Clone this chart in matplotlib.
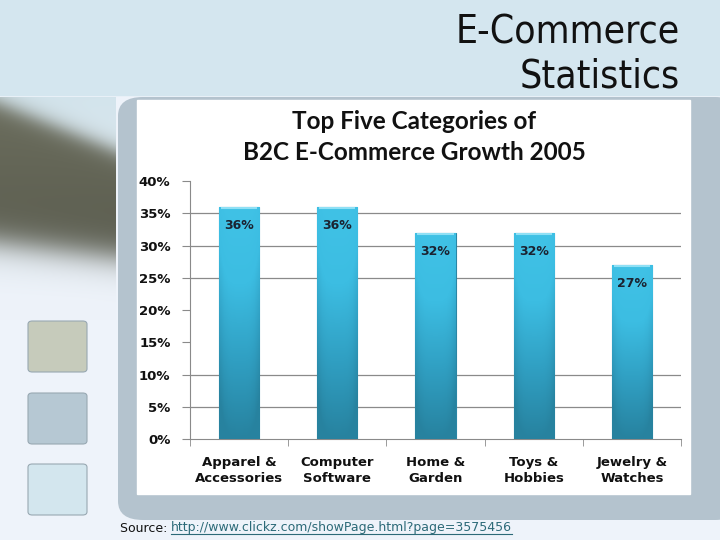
import numpy as np
import matplotlib
matplotlib.use("Agg")
import matplotlib.pyplot as plt
from matplotlib.patches import Rectangle, FancyBboxPatch
from matplotlib.colors import LinearSegmentedColormap, to_rgb

# data
categories = ["Apparel &\nAccessories", "Computer\nSoftware", "Home &\nGarden",
              "Toys &\nHobbies", "Jewelry &\nWatches"]
growth = [36, 36, 32, 32, 27]
yticks = [0, 5, 10, 15, 20, 25, 30, 35, 40]
grid_levels = [5, 10, 25, 30, 35]
slide_title = "E-Commerce\nStatistics"
chart_title = "Top Five Categories of\nB2C E-Commerce Growth 2005"
source_label = "Source: "
source_url = "http://www.clickz.com/showPage.html?page=3575456"

W, H = 720, 540
fig = plt.figure(figsize=(7.2, 5.4), dpi=100)
fig.patch.set_facecolor("#eef3fa")


def box(x0, y0, x1, y1):
    # pixel box (top-left origin) -> figure fraction rect args
    return (x0 / W, 1 - y1 / H), (x1 - x0) / W, (y1 - y0) / H


# slide background
xy, w, h = box(0, 0, W, 95)
fig.patches.append(Rectangle(xy, w, h, transform=fig.transFigure, color="#d4e6ef", zorder=-5))

# dark diagonal band in the top left strip
sx, sy = np.meshgrid(np.arange(116), np.arange(97, 320))
top_edge = 103 + 47 * sx / 115
bot_edge = 242 + 14 * sx / 115
up = 1 / (1 + np.exp(-(sy - top_edge) / 6))
down = 1 / (1 + np.exp((sy - bot_edge) / 9))
dark = up * down
mix = np.clip((sy - 97) / 200, 0, 1)[..., None]
base = np.array(to_rgb("#d3e4ec")) * (1 - mix) + np.array(to_rgb("#eef3fa")) * mix
shade = np.array(to_rgb("#6b6d5d")) * (1 - 0.15 * (sy - 100)[..., None] / 150)
strip = base * (1 - dark[..., None]) + shade * dark[..., None]
sax = fig.add_axes([0, 1 - 320 / H, 116 / W, 223 / H], zorder=-4)
sax.imshow(np.clip(strip, 0, 1), aspect="auto", origin="upper")
sax.axis("off")

# grey-blue panel behind chart
xy, w, h = box(118, 97, 740, 520)
fig.patches.append(FancyBboxPatch(xy, w, h, boxstyle="round,pad=0,rounding_size=0.035",
                                  transform=fig.transFigure, facecolor="#b4c3ce",
                                  edgecolor="none", zorder=-3))
xy, w, h = box(137, 100, 690, 494)
fig.patches.append(Rectangle(xy, w, h, transform=fig.transFigure, color="white", zorder=-2))

# decorative squares
for top, col in [(321, "#c6cbbb"), (393, "#b6c8d3"), (464, "#d3e6ee")]:
    xy, w, h = box(28, top, 87, top + 51)
    fig.patches.append(FancyBboxPatch(xy, w, h, boxstyle="round,pad=0,rounding_size=0.006",
                                      transform=fig.transFigure, facecolor=col,
                                      edgecolor="#98a8b2", linewidth=0.8, zorder=-2))

fig.text(680 / W, 1 - 54 / H, slide_title, ha="right", va="center", fontsize=28,
         family="DejaVu Sans", fontstretch="condensed", color="#111111", linespacing=1.2)
fig.text(414 / W, 1 - 137 / H, chart_title, ha="center", va="center", fontsize=17.5,
         fontweight="bold", family=["Lato", "DejaVu Sans"], color="#111111", linespacing=1.38)

# chart
ax = fig.add_axes([190 / W, 1 - 439 / H, 491 / W, 258 / H])
ax.set_facecolor("none")
x = np.arange(len(categories))
bars = ax.bar(x, growth, width=0.41, color="#39b4d8", edgecolor="#2a86a5", linewidth=0.8, zorder=3)

# vertical shading, slightly darker at the bar sides
cmap = LinearSegmentedColormap.from_list("bar", ["#27829f", "#309fc2", "#3cbde2", "#40c2e6"])
gy = np.linspace(0, 1, 128)[:, None]
gx = np.abs(np.linspace(-1, 1, 32))[None, :]
shading = np.clip(gy - 0.18 * gx ** 4, 0, 1)
for b in bars:
    bx, bw, bh = b.get_x(), b.get_width(), b.get_height()
    img = ax.imshow(shading, cmap=cmap, aspect="auto", origin="lower",
                    extent=[bx, bx + bw, 0, bh], zorder=3.5, vmin=0, vmax=1)
    img.set_clip_path(b)
    ax.plot([bx + bw * 0.05, bx + bw * 0.95], [bh - 0.25, bh - 0.25], color="#8fe0f5",
            lw=1.5, zorder=4, solid_capstyle="butt")
    ax.text(bx + bw / 2, bh - 2.9, f"{bh:.0f}%", ha="center", va="center", fontsize=9,
            fontweight="bold", color="#1b2230", zorder=5)

for g in grid_levels:
    ax.axhline(g, color="#8a8a8a", lw=0.9, zorder=1)

ax.set_xlim(-0.5, len(categories) - 0.5)
ax.set_ylim(0, 40)
ax.set_yticks(yticks)
ax.set_yticklabels([f"{t}%" for t in yticks], fontsize=9.5, fontweight="bold", color="#111111")
ax.set_xticks(x)
ax.set_xticklabels(categories, fontsize=9.5, fontweight="bold", color="#111111", linespacing=1.3)
ax.set_xticks(np.arange(len(categories) + 1) - 0.5, minor=True)
ax.tick_params(axis="x", which="major", length=0, pad=12)
ax.tick_params(axis="x", which="minor", length=5, color="#8a8a8a", direction="out")
ax.tick_params(axis="y", length=6, color="#8a8a8a", pad=8)
for s in ["top", "right"]:
    ax.spines[s].set_visible(False)
ax.spines["left"].set_color("#8a8a8a")
ax.spines["bottom"].set_color("#8a8a8a")

# source line with underlined link
t1 = fig.text(120 / W, 1 - 528 / H, source_label, ha="left", va="center", fontsize=9, color="#111111")
fig.canvas.draw()
r = fig.canvas.get_renderer()
bb = t1.get_window_extent(r)
t2 = fig.text(bb.x1 / W, 1 - 528 / H, source_url, ha="left", va="center", fontsize=9, color="#2c6a78")
bb2 = t2.get_window_extent(r)
fig.lines.append(plt.Line2D([bb2.x0 / W, bb2.x1 / W], [(bb2.y0 + 1) / H] * 2,
                            transform=fig.transFigure, color="#2c6a78", lw=0.8))

fig.savefig("out.png", dpi=100)
